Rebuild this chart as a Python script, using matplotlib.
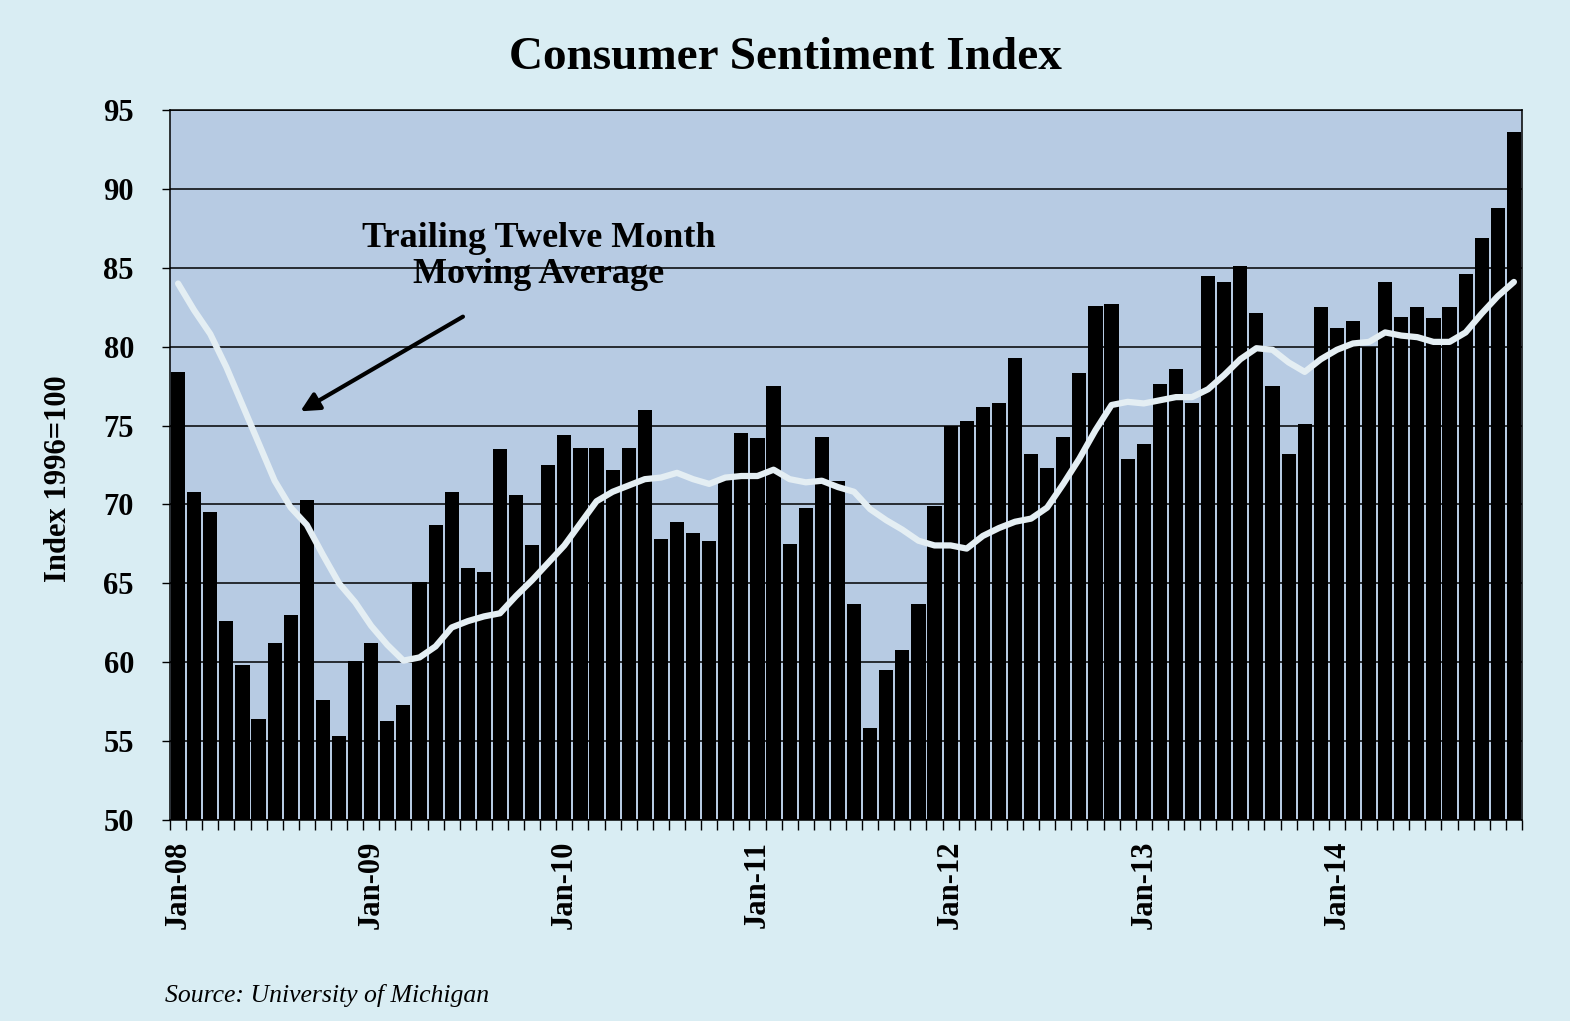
import matplotlib
matplotlib.use("Agg")
import matplotlib.pyplot as plt
import numpy as np

# monthly index values, Jan-08 .. Dec-14
sentiment = [
    78.4, 70.8, 69.5, 62.6, 59.8, 56.4, 61.2, 63.0, 70.3, 57.6, 55.3, 60.1,
    61.2, 56.3, 57.3, 65.1, 68.7, 70.8, 66.0, 65.7, 73.5, 70.6, 67.4, 72.5,
    74.4, 73.6, 73.6, 72.2, 73.6, 76.0, 67.8, 68.9, 68.2, 67.7, 71.6, 74.5,
    74.2, 77.5, 67.5, 69.8, 74.3, 71.5, 63.7, 55.8, 59.5, 60.8, 63.7, 69.9,
    75.0, 75.3, 76.2, 76.4, 79.3, 73.2, 72.3, 74.3, 78.3, 82.6, 82.7, 72.9,
    73.8, 77.6, 78.6, 76.4, 84.5, 84.1, 85.1, 82.1, 77.5, 73.2, 75.1, 82.5,
    81.2, 81.6, 80.0, 84.1, 81.9, 82.5, 81.8, 82.5, 84.6, 86.9, 88.8, 93.6,
]

# trailing twelve month moving average
moving_avg = [
    84.0, 82.3, 80.8, 78.7, 76.3, 73.9, 71.5, 69.8, 68.7, 66.8, 65.0, 63.8,
    62.3, 61.1, 60.1, 60.3, 61.0, 62.2, 62.6, 62.9, 63.1, 64.2, 65.2, 66.3,
    67.4, 68.8, 70.2, 70.8, 71.2, 71.6, 71.7, 72.0, 71.6, 71.3, 71.7, 71.8,
    71.8, 72.2, 71.6, 71.4, 71.5, 71.1, 70.8, 69.7, 69.0, 68.4, 67.7, 67.4,
    67.4, 67.2, 68.0, 68.5, 68.9, 69.1, 69.8, 71.3, 72.9, 74.7, 76.3, 76.5,
    76.4, 76.6, 76.8, 76.8, 77.3, 78.2, 79.2, 79.9, 79.8, 79.0, 78.4, 79.2,
    79.8, 80.2, 80.3, 80.9, 80.7, 80.6, 80.3, 80.3, 80.9, 82.1, 83.2, 84.1,
]

tick_labels = ["Jan-08", "Jan-09", "Jan-10", "Jan-11", "Jan-12", "Jan-13", "Jan-14"]

serif = "Liberation Serif"
fig_bg = "#d9edf3"
plot_bg = "#b7cbe3"

fig = plt.figure(figsize=(15.7, 10.21), dpi=100, facecolor=fig_bg)
ax = fig.add_axes([0.1083, 0.1969, 0.8611, 0.6954])
ax.set_facecolor(plot_bg)

x = np.arange(len(sentiment))
ax.bar(x, np.array(sentiment) - 50, bottom=50, width=0.88, color="black", zorder=3)
ax.plot(x, moving_avg, color="#e4eef3", linewidth=4.5, solid_capstyle="round", zorder=4)

ax.set_xlim(-0.5, len(sentiment) - 0.5)
ax.set_ylim(50, 95)
ax.set_yticks(np.arange(50, 96, 5))
ax.yaxis.grid(True, color="black", linewidth=1.1, zorder=1)
ax.set_axisbelow(True)

ax.set_xticks(np.arange(0, len(sentiment), 12))
ax.set_xticklabels(tick_labels, rotation=90, fontfamily=serif, fontweight="bold", fontsize=22)
ax.set_xticks(np.arange(-0.5, len(sentiment), 1), minor=True)
ax.tick_params(axis="x", which="major", length=0, pad=15)
ax.tick_params(axis="x", which="minor", length=7, width=1, direction="out")
ax.tick_params(axis="y", length=6, width=1, direction="out", pad=20)
for lbl in ax.get_yticklabels():
    lbl.set_fontfamily(serif)
    lbl.set_fontweight("bold")
    lbl.set_fontsize(22)

for s in ax.spines.values():
    s.set_color("black")
    s.set_linewidth(1.1)

ax.set_ylabel("Index 1996=100", fontfamily=serif, fontweight="bold", fontsize=22)
ax.yaxis.set_label_coords(-0.072, 0.48)

fig.text(0.5, 0.943, "Consumer Sentiment Index", ha="center", va="center",
         fontfamily=serif, fontsize=34, fontweight="bold")

ax.text(22.4, 85.7, "Trailing Twelve Month\nMoving Average", ha="center", va="center",
        fontfamily=serif, fontweight="bold", fontsize=26, linespacing=1.1, zorder=5)
ax.annotate("", xy=(7.6, 75.9), xytext=(17.7, 81.9), zorder=5,
            arrowprops=dict(arrowstyle="-|>", color="black", lw=3, mutation_scale=28,
                            shrinkA=0, shrinkB=0))

fig.text(0.105, 0.025, "Source: University of Michigan", ha="left", va="center",
         fontfamily=serif, fontstyle="italic", fontsize=18.5)

fig.savefig("out.png", dpi=100, facecolor=fig_bg)
